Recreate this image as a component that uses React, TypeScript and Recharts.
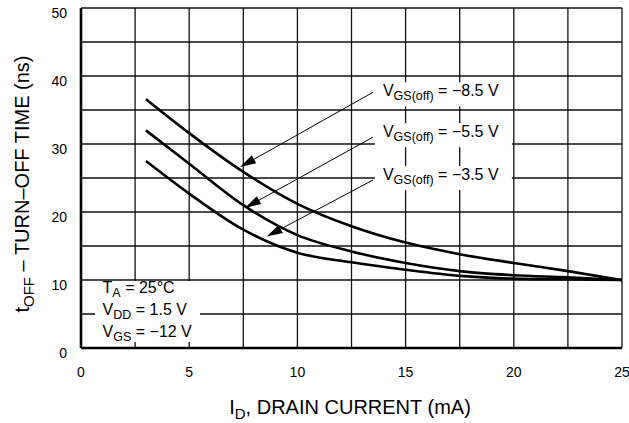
import React from "react";
import {
  LineChart,
  Line,
  XAxis,
  YAxis,
  CartesianGrid,
  ReferenceLine,
  ReferenceArea,
} from "recharts";

const FONT = "'Liberation Sans', Arial, Helvetica, sans-serif";

// drain current (mA) sample points
const ID_MA = [3, 5, 7.5, 10, 12.5, 15, 17.5, 20, 22.5, 25];
// turn-off time (ns) per gate cut-off voltage
const T_OFF_85 = [36.6, 31.6, 25.9, 21.2, 17.9, 15.5, 13.8, 12.5, 11.3, 10.0];
const T_OFF_55 = [32.0, 27.1, 21.0, 16.6, 14.2, 12.5, 11.3, 10.7, 10.4, 10.0];
const T_OFF_35 = [27.5, 22.7, 17.4, 14.0, 12.6, 11.5, 10.6, 10.2, 10.1, 10.0];

const X_TICKS = [0, 2.5, 5, 7.5, 10, 12.5, 15, 17.5, 20, 22.5, 25];
const Y_TICKS = [0, 5, 10, 15, 20, 25, 30, 35, 40, 45, 50];

// arrow annotations: label, start point (data units), tip (data units)
const ANNOTATIONS = [
  { label: "\u22128.5 V", from: { x: 13.49, y: 37.6 }, to: { x: 7.35, y: 26.6 }, dy: 4 },
  { label: "\u22125.5 V", from: { x: 13.49, y: 31.0 }, to: { x: 7.58, y: 20.6 }, dy: 0 },
  { label: "\u22123.5 V", from: { x: 13.49, y: 24.7 }, to: { x: 8.58, y: 16.4 }, dy: 0 },
];

const toPoints = (ys: number[]) => ID_MA.map((x, i) => ({ x, y: ys[i] }));

function XTick({ x, y, payload }: any) {
  if (payload.value % 5 !== 0) return <g />;
  return (
    <text x={x} y={y + 21} textAnchor="middle" fontSize={14} fontFamily={FONT} fill="#000">
      {payload.value}
    </text>
  );
}

function YTick({ x, y, payload }: any) {
  if (payload.value % 10 !== 0) return <g />;
  return (
    <text x={x} y={y + 10} textAnchor="end" fontSize={14} fontFamily={FONT} fill="#000">
      {payload.value}
    </text>
  );
}

function arrowShape(label: string, dy: number) {
  return (p: any) => {
    const { x1, y1, x2, y2 } = p;
    const ang = Math.atan2(y2 - y1, x2 - x1);
    const len = 16;
    const hw = 4.5;
    const bx = x2 - len * Math.cos(ang);
    const by = y2 - len * Math.sin(ang);
    const nx = -Math.sin(ang) * hw;
    const ny = Math.cos(ang) * hw;
    const base = y1 + dy;
    return (
      <g>
        <line x1={x1} y1={y1} x2={bx} y2={by} stroke="#000" strokeWidth={1} />
        <polygon points={`${x2},${y2} ${bx + nx},${by + ny} ${bx - nx},${by - ny}`} fill="#000" />
        <rect x={x1 + 2} y={base - 14} width={137} height={24} fill="#fff" />
        <text x={x1 + 10} y={base} fontSize={16} fontFamily={FONT} fill="#000">
          V
          <tspan fontSize={12.5} dy={4}>GS(off)</tspan>
          <tspan fontSize={16} dy={-4}>{" = " + label}</tspan>
        </text>
      </g>
    );
  };
}

function ConditionsBox(p: any) {
  const { x, y, width, height } = p;
  return (
    <g fontFamily={FONT} fill="#000">
      <rect x={x} y={y} width={width} height={height} fill="#fff" />
      <text x={x + 7.5} y={y + 12} fontSize={16}>
        T<tspan fontSize={12.5} dy={4}>A</tspan>
        <tspan dy={-4} fontSize={16}>{" = 25\u00B0C"}</tspan>
      </text>
      <text x={x + 7.5} y={y + 34} fontSize={16}>
        V<tspan fontSize={12.5} dy={4}>DD</tspan>
        <tspan dy={-4} fontSize={16}>{" = 1.5 V"}</tspan>
      </text>
      <text x={x + 7.5} y={y + 56} fontSize={16}>
        V<tspan fontSize={12.5} dy={4}>GS</tspan>
        <tspan dy={-4} fontSize={16}>{" = \u221212 V"}</tspan>
      </text>
    </g>
  );
}

export default function App() {
  return (
    <div style={{ position: "absolute", left: 0, top: 0, width: 629, height: 423, background: "#fff" }}>
      <LineChart width={629} height={423} margin={{ top: 8, right: 7, bottom: 0, left: 0 }}>
        <CartesianGrid stroke="#111" strokeWidth={1.3} />
        <XAxis
          dataKey="x"
          type="number"
          domain={[0, 25]}
          ticks={X_TICKS}
          height={75}
          tickLine={false}
          axisLine={{ stroke: "#000", strokeWidth: 2.6 }}
          tick={<XTick />}
          interval={0}
        />
        <YAxis
          type="number"
          domain={[0, 50]}
          ticks={Y_TICKS}
          width={81}
          tickLine={false}
          tickMargin={8}
          axisLine={{ stroke: "#000", strokeWidth: 2.6 }}
          tick={<YTick />}
          interval={0}
        />
        <ReferenceArea x1={0.65} x2={5.5} y1={0.9} y2={9.85} shape={ConditionsBox} ifOverflow="visible" />
        <Line data={toPoints(T_OFF_85)} dataKey="y" type="monotone" stroke="#000" strokeWidth={2.6} dot={false} isAnimationActive={false} />
        <Line data={toPoints(T_OFF_55)} dataKey="y" type="monotone" stroke="#000" strokeWidth={2.6} dot={false} isAnimationActive={false} />
        <Line data={toPoints(T_OFF_35)} dataKey="y" type="monotone" stroke="#000" strokeWidth={2.6} dot={false} isAnimationActive={false} />
        {ANNOTATIONS.map((a) => (
          <ReferenceLine
            key={a.label}
            segment={[a.from, a.to]}
            ifOverflow="visible"
            shape={arrowShape(a.label, a.dy)}
          />
        ))}
      </LineChart>
      <svg width={629} height={423} style={{ position: "absolute", left: 0, top: 0, pointerEvents: "none" }}>
        <text x={350} y={414} textAnchor="middle" fontSize={20} fontFamily={FONT} fill="#000">
          I<tspan fontSize={15} dy={5}>D</tspan>
          <tspan fontSize={20} dy={-5}>, DRAIN CURRENT (mA)</tspan>
        </text>
        <text transform="translate(28.5,184) rotate(-90)" textAnchor="middle" fontSize={20} fontFamily={FONT} fill="#000">
          t<tspan fontSize={15} dy={5}>OFF</tspan>
          <tspan fontSize={20} dy={-5}>{" \u2013 TURN\u2013OFF TIME (ns)"}</tspan>
        </text>
      </svg>
    </div>
  );
}
